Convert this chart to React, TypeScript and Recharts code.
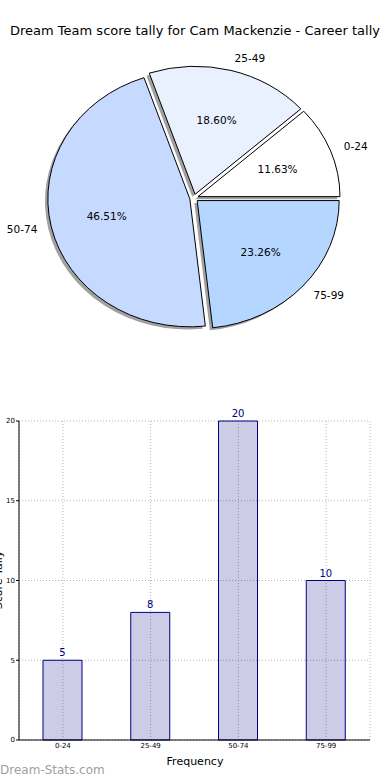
import React from 'react';
import { PieChart, Pie, BarChart, Bar, XAxis, YAxis, CartesianGrid, LabelList } from 'recharts';

const categories = ['0-24', '25-49', '50-74', '75-99'];
const tallies = [5, 8, 20, 10];
const sliceColors = ['#ffffff', '#e9f1ff', '#c6d9ff', '#b4d6ff'];
const yTicks = [0, 5, 10, 15, 20];
const titleText = 'Dream Team score tally for Cam Mackenzie - Career tally';
const xLabelText = 'Frequency';
const yLabelText = 'Score Tally';
const watermarkText = 'Dream-Stats.com';

const pieData = categories.map((c, i) => ({ name: c, value: tallies[i], color: sliceColors[i] }));
const barData = categories.map((c, i) => ({ name: c, value: tallies[i] }));

const FONT = '"DejaVu Sans", Verdana, sans-serif';
const Y_RATIO = 128 / 142;
const EXPLODE = 0.03;
const RAD = Math.PI / 180;

const wedgePath = (cx: number, cy: number, r: number, startAngle: number, endAngle: number, dx = 0, dy = 0) => {
  const rx = r;
  const ry = r * Y_RATIO;
  const mid = ((startAngle + endAngle) / 2) * RAD;
  const ox = cx + EXPLODE * rx * Math.cos(mid) + dx;
  const oy = cy - EXPLODE * ry * Math.sin(mid) + dy;
  const x0 = ox + rx * Math.cos(startAngle * RAD);
  const y0 = oy - ry * Math.sin(startAngle * RAD);
  const x1 = ox + rx * Math.cos(endAngle * RAD);
  const y1 = oy - ry * Math.sin(endAngle * RAD);
  const large = Math.abs(endAngle - startAngle) > 180 ? 1 : 0;
  return `M${ox},${oy} L${x0},${y0} A${rx},${ry} 0 ${large} 0 ${x1},${y1} Z`;
};

const shadowShape = (props: any) => {
  const { cx, cy, outerRadius, startAngle, endAngle } = props;
  const d = wedgePath(cx, cy, outerRadius, startAngle, endAngle, -0.02 * outerRadius, 0.02 * outerRadius * Y_RATIO);
  return <path d={d} fill="#444444" fillOpacity={0.5} stroke="none" />;
};

const wedgeShape = (props: any) => {
  const { cx, cy, outerRadius, startAngle, endAngle, index } = props;
  const d = wedgePath(cx, cy, outerRadius, startAngle, endAngle);
  const color = pieData[index] ? pieData[index].color : '#fff';
  return <path d={d} fill={color} stroke="#000" strokeWidth={1} strokeLinejoin="round" />;
};

const renderPieLabel = (props: any) => {
  const { cx, cy, midAngle, outerRadius, percent, name } = props;
  const rx = outerRadius;
  const ry = outerRadius * Y_RATIO;
  const c = Math.cos(midAngle * RAD);
  const s = Math.sin(midAngle * RAD);
  const ox = cx + EXPLODE * rx * c;
  const oy = cy - EXPLODE * ry * s;
  const lx = ox + 1.1 * rx * c;
  const ly = oy - 1.1 * ry * s;
  const px = ox + 0.6 * rx * c;
  const py = oy - 0.6 * ry * s;
  return (
    <g>
      <text x={lx} y={ly} textAnchor={c >= 0 ? 'start' : 'end'} dominantBaseline="central" fontFamily={FONT} fontSize={10.5} fill="#000">
        {name}
      </text>
      <text x={px} y={py} textAnchor="middle" dominantBaseline="central" fontFamily={FONT} fontSize={10.5} fill="#000">
        {(percent * 100).toFixed(2)}%
      </text>
    </g>
  );
};

export default function App() {
  return (
    <div style={{ position: 'absolute', left: 0, top: 0, width: 390, height: 780, background: '#fff', fontFamily: FONT }}>
      <div style={{ position: 'absolute', left: 0, top: 0 }}>
        <PieChart width={390} height={370} margin={{ top: 0, right: 0, bottom: 0, left: 0 }}>
          <Pie
            data={pieData}
            dataKey="value"
            nameKey="name"
            cx={194}
            cy={198}
            outerRadius={142}
            startAngle={0}
            endAngle={360}
            isAnimationActive={false}
            shape={shadowShape}
            label={false}
            labelLine={false}
            stroke="none"
          />
          <Pie
            data={pieData}
            dataKey="value"
            nameKey="name"
            cx={194}
            cy={198}
            outerRadius={142}
            startAngle={0}
            endAngle={360}
            isAnimationActive={false}
            shape={wedgeShape}
            label={renderPieLabel}
            labelLine={false}
            stroke="#000"
          />
        </PieChart>
      </div>
      <div style={{ position: 'absolute', left: 0, top: 380 }}>
        <BarChart width={390} height={400} data={barData} margin={{ top: 41, right: 20, left: 0, bottom: 0 }}>
          <CartesianGrid stroke="#b5b5b5" strokeDasharray="1 2" />
          <XAxis
            dataKey="name"
            height={40}
            tick={{ fontSize: 7, fill: '#000', fontFamily: FONT }}
            tickLine={false}
            tickSize={0}
            tickMargin={3}
            axisLine={{ stroke: '#000' }}
            interval={0}
          />
          <YAxis
            domain={[0, 20]}
            ticks={yTicks}
            width={19}
            tick={{ fontSize: 7, fill: '#000', fontFamily: FONT }}
            tickSize={3}
            tickMargin={1}
            tickLine={{ stroke: '#000' }}
            axisLine={{ stroke: '#000' }}
          />
          <XAxis xAxisId="top" orientation="top" dataKey="name" height={0} tick={false} tickLine={false} axisLine={{ stroke: '#000' }} />
          <YAxis yAxisId="right" orientation="right" width={0} domain={[0, 20]} tick={false} tickLine={false} axisLine={{ stroke: '#000' }} />
          <Bar dataKey="value" fill="#000080" fillOpacity={0.2} stroke="#000080" strokeWidth={1} barSize={39} isAnimationActive={false}>
            <LabelList dataKey="value" position="top" offset={4} fill="#000080" fontSize={10} fontFamily={FONT} />
          </Bar>
        </BarChart>
      </div>
      <svg width={390} height={780} style={{ position: 'absolute', left: 0, top: 0, pointerEvents: 'none' }}>
        <text x={195} y={30} textAnchor="middle" dominantBaseline="central" fontFamily={FONT} fontSize={13} fill="#000">
          {titleText}
        </text>
        <text x={195} y={761} textAnchor="middle" dominantBaseline="central" fontFamily={FONT} fontSize={11} fill="#000">
          {xLabelText}
        </text>
        <text x={0} y={580} transform="rotate(-90 0 580)" textAnchor="middle" dominantBaseline="auto" fontFamily={FONT} fontSize={11} fill="#000" dy={2}>
          {yLabelText}
        </text>
        <text x={0} y={770} dominantBaseline="central" fontFamily={FONT} fontSize={12} fill="#a0a0a0">
          {watermarkText}
        </text>
      </svg>
    </div>
  );
}
